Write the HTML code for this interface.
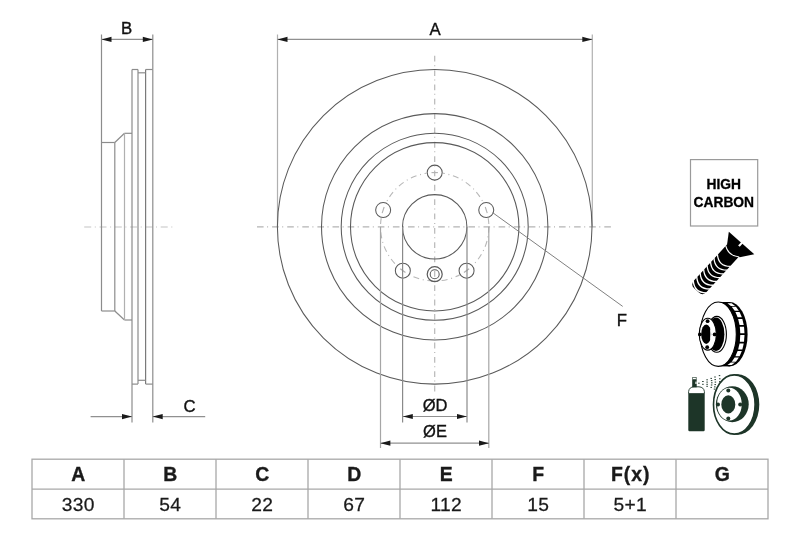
<!DOCTYPE html>
<html><head><meta charset="utf-8"><style>
html,body{margin:0;padding:0;background:#fff;}
body{width:800px;height:533px;overflow:hidden;position:relative;}
svg{position:absolute;left:0;top:0;will-change:transform;font-family:"Liberation Sans",sans-serif;}
</style></head><body>
<svg width="800" height="533" viewBox="0 0 800 533">
<line x1="257" y1="226.8" x2="612" y2="226.8" stroke="#b4b4b4" stroke-width="1.2" stroke-dasharray="6.6 3.5 1 4"/>
<line x1="434.7" y1="55.8" x2="434.7" y2="392.8" stroke="#b8b8b8" stroke-width="1.2" stroke-dasharray="5.8 3.54 1 4"/>
<line x1="84.2" y1="227" x2="173.5" y2="227" stroke="#c4c4c4" stroke-width="1.2" stroke-dasharray="7 3.6 1 3.7"/>
<line x1="277.5" y1="34.5" x2="277.5" y2="226.8" stroke="#b0b0b0" stroke-width="1.2" />
<line x1="592.3" y1="34.5" x2="592.3" y2="226.8" stroke="#b0b0b0" stroke-width="1.2" />
<line x1="277.5" y1="39.4" x2="592.3" y2="39.4" stroke="#909090" stroke-width="1.2" />
<polygon points="277.5,39.4 287.5,36.8 287.5,42.0" fill="#1a1a1a"/>
<polygon points="592.3,39.4 582.3,36.8 582.3,42.0" fill="#1a1a1a"/>
<text x="435.2" y="34.6" font-size="16.8" font-weight="normal" text-anchor="middle" fill="#111" stroke="#111" stroke-width="0.35">A</text>
<line x1="152.8" y1="34.4" x2="152.8" y2="69.5" stroke="#8c8c8c" stroke-width="1.2" />
<line x1="101.5" y1="39.4" x2="152.8" y2="39.4" stroke="#909090" stroke-width="1.2" />
<polygon points="101.5,39.4 111.5,36.8 111.5,42.0" fill="#1a1a1a"/>
<polygon points="152.8,39.4 142.8,36.8 142.8,42.0" fill="#1a1a1a"/>
<text x="126.6" y="34.3" font-size="16.8" font-weight="normal" text-anchor="middle" fill="#111" stroke="#111" stroke-width="0.35">B</text>
<line x1="101.5" y1="34.4" x2="101.5" y2="311" stroke="#8c8c8c" stroke-width="1.2" />
<line x1="101.5" y1="142.5" x2="114.8" y2="142.5" stroke="#8c8c8c" stroke-width="1.2" />
<line x1="101.5" y1="311" x2="114.8" y2="311" stroke="#8c8c8c" stroke-width="1.2" />
<line x1="114.8" y1="142.5" x2="114.8" y2="311" stroke="#8c8c8c" stroke-width="1.2" />
<line x1="114.8" y1="142.5" x2="124.5" y2="133.3" stroke="#8c8c8c" stroke-width="1.2" />
<line x1="114.8" y1="311" x2="124.5" y2="320" stroke="#8c8c8c" stroke-width="1.2" />
<line x1="124.5" y1="133.3" x2="132" y2="133.3" stroke="#8c8c8c" stroke-width="1.2" />
<line x1="124.5" y1="320" x2="132" y2="320" stroke="#8c8c8c" stroke-width="1.2" />
<line x1="124.5" y1="133.3" x2="124.5" y2="320" stroke="#b0b0b0" stroke-width="1.2" />
<line x1="132" y1="69.5" x2="132" y2="422.6" stroke="#8c8c8c" stroke-width="1.2" />
<line x1="138" y1="69.5" x2="138" y2="384.1" stroke="#8c8c8c" stroke-width="1.2" />
<line x1="145.6" y1="69.5" x2="145.6" y2="384.1" stroke="#7a7a7a" stroke-width="1.2" />
<line x1="152.8" y1="69.5" x2="152.8" y2="422.6" stroke="#8c8c8c" stroke-width="1.2" />
<line x1="132" y1="69.5" x2="138" y2="69.5" stroke="#8c8c8c" stroke-width="1.2" />
<line x1="145.6" y1="69.5" x2="152.8" y2="69.5" stroke="#8c8c8c" stroke-width="1.2" />
<line x1="138" y1="72.8" x2="145.6" y2="72.8" stroke="#8c8c8c" stroke-width="1.2" />
<line x1="132" y1="384.1" x2="138" y2="384.1" stroke="#8c8c8c" stroke-width="1.2" />
<line x1="145.6" y1="384.1" x2="152.8" y2="384.1" stroke="#8c8c8c" stroke-width="1.2" />
<line x1="138" y1="380.3" x2="145.6" y2="380.3" stroke="#8c8c8c" stroke-width="1.2" />
<line x1="90.6" y1="416.6" x2="132" y2="416.6" stroke="#909090" stroke-width="1.2" />
<polygon points="132,416.6 122,414.0 122,419.20000000000005" fill="#1a1a1a"/>
<line x1="152.7" y1="416.6" x2="205.2" y2="416.6" stroke="#909090" stroke-width="1.2" />
<polygon points="152.7,416.6 162.7,414.0 162.7,419.20000000000005" fill="#1a1a1a"/>
<text x="189.5" y="411.9" font-size="16.8" font-weight="normal" text-anchor="middle" fill="#111" stroke="#111" stroke-width="0.35">C</text>
<circle cx="434.70" cy="226.80" r="157.3" stroke="#5a5a5a" stroke-width="1.05" fill="none" />
<circle cx="434.70" cy="226.80" r="113.2" stroke="#5a5a5a" stroke-width="1.05" fill="none" />
<circle cx="434.70" cy="226.80" r="93.5" stroke="#5a5a5a" stroke-width="1.05" fill="none" />
<circle cx="434.70" cy="226.80" r="84.2" stroke="#5a5a5a" stroke-width="1.05" fill="none" />
<circle cx="434.70" cy="226.80" r="32.2" stroke="#5a5a5a" stroke-width="1.05" fill="none" />
<g><clipPath id="bc"><path d="M0,0H800V533H0ZM443.00,172.60a8.3,8.3 0 1,0 -16.6,0a8.3,8.3 0 1,0 16.6,0ZM494.55,210.05a8.3,8.3 0 1,0 -16.6,0a8.3,8.3 0 1,0 16.6,0ZM474.86,270.65a8.3,8.3 0 1,0 -16.6,0a8.3,8.3 0 1,0 16.6,0ZM411.14,270.65a8.3,8.3 0 1,0 -16.6,0a8.3,8.3 0 1,0 16.6,0ZM391.45,210.05a8.3,8.3 0 1,0 -16.6,0a8.3,8.3 0 1,0 16.6,0Z" clip-rule="evenodd"/></clipPath></g>
<circle cx="434.70" cy="226.80" r="54.2" stroke="#b8b8b8" stroke-width="1.1" fill="none" stroke-dasharray="6 3.7 1 3.7" clip-path="url(#bc)"/>
<circle cx="434.70" cy="172.60" r="7.5" stroke="#5a5a5a" stroke-width="1.05" fill="none" />
<line x1="431.50" y1="172.60" x2="437.90" y2="172.60" stroke="#b0b0b0" stroke-width="1.1" />
<circle cx="486.25" cy="210.05" r="7.5" stroke="#5a5a5a" stroke-width="1.05" fill="none" />
<line x1="485.26" y1="207.01" x2="487.24" y2="213.09" stroke="#b0b0b0" stroke-width="1.1" />
<circle cx="466.56" cy="270.65" r="7.5" stroke="#5a5a5a" stroke-width="1.05" fill="none" />
<line x1="469.15" y1="268.77" x2="463.97" y2="272.53" stroke="#b0b0b0" stroke-width="1.1" />
<circle cx="402.84" cy="270.65" r="7.5" stroke="#5a5a5a" stroke-width="1.05" fill="none" />
<line x1="405.43" y1="272.53" x2="400.25" y2="268.77" stroke="#b0b0b0" stroke-width="1.1" />
<circle cx="383.15" cy="210.05" r="7.5" stroke="#5a5a5a" stroke-width="1.05" fill="none" />
<line x1="382.16" y1="213.09" x2="384.14" y2="207.01" stroke="#b0b0b0" stroke-width="1.1" />
<circle cx="434.70" cy="274.20" r="7.5" stroke="#5a5a5a" stroke-width="1.2" fill="none" />
<circle cx="434.70" cy="274.20" r="4.5" stroke="#5a5a5a" stroke-width="1.05" fill="none" />
<line x1="402.6" y1="226.8" x2="402.6" y2="422.5" stroke="#8a8a8a" stroke-width="1.2" />
<line x1="467" y1="226.8" x2="467" y2="422.5" stroke="#8a8a8a" stroke-width="1.2" />
<line x1="402.8" y1="416.5" x2="467" y2="416.5" stroke="#909090" stroke-width="1.2" />
<polygon points="402.8,416.5 412.8,413.9 412.8,419.1" fill="#1a1a1a"/>
<polygon points="467,416.5 457,413.9 457,419.1" fill="#1a1a1a"/>
<text x="435" y="410.6" font-size="16.5" font-weight="normal" text-anchor="middle" fill="#111" stroke="#111" stroke-width="0.35">&#216;D</text>
<line x1="380.5" y1="226.8" x2="380.5" y2="448" stroke="#a6a6a6" stroke-width="1.2" />
<line x1="488.8" y1="226.8" x2="488.8" y2="448" stroke="#a6a6a6" stroke-width="1.2" />
<line x1="380.4" y1="443.2" x2="489" y2="443.2" stroke="#909090" stroke-width="1.2" />
<polygon points="380.4,443.2 390.4,440.59999999999997 390.4,445.8" fill="#1a1a1a"/>
<polygon points="489,443.2 479,440.59999999999997 479,445.8" fill="#1a1a1a"/>
<text x="435" y="437.3" font-size="16.5" font-weight="normal" text-anchor="middle" fill="#111" stroke="#111" stroke-width="0.35">&#216;E</text>
<line x1="492.6" y1="212.6" x2="622.7" y2="306.4" stroke="#808080" stroke-width="1.0" />
<text x="622" y="325.8" font-size="16.8" font-weight="normal" text-anchor="middle" fill="#111" stroke="#111" stroke-width="0.35">F</text>
<rect x="32" y="459.2" width="736" height="59.6" fill="none" stroke="#a8a8a8" stroke-width="1.3"/>
<line x1="32" y1="489.2" x2="768" y2="489.2" stroke="#a8a8a8" stroke-width="1.3"/>
<line x1="124" y1="459.2" x2="124" y2="518.8" stroke="#a8a8a8" stroke-width="1.3"/>
<line x1="216" y1="459.2" x2="216" y2="518.8" stroke="#a8a8a8" stroke-width="1.3"/>
<line x1="308" y1="459.2" x2="308" y2="518.8" stroke="#a8a8a8" stroke-width="1.3"/>
<line x1="400" y1="459.2" x2="400" y2="518.8" stroke="#a8a8a8" stroke-width="1.3"/>
<line x1="492" y1="459.2" x2="492" y2="518.8" stroke="#a8a8a8" stroke-width="1.3"/>
<line x1="584" y1="459.2" x2="584" y2="518.8" stroke="#a8a8a8" stroke-width="1.3"/>
<line x1="676" y1="459.2" x2="676" y2="518.8" stroke="#a8a8a8" stroke-width="1.3"/>
<text x="78.8" y="481.2" font-size="19.4" font-weight="bold" letter-spacing="1" stroke="#1a1a1a" stroke-width="0.35" text-anchor="middle" fill="#1a1a1a">A</text>
<text transform="translate(78.2,511) scale(1.05,1)" x="0" y="0" font-size="18.3" letter-spacing="0.2" stroke="#1a1a1a" stroke-width="0.25" text-anchor="middle" fill="#1a1a1a">330</text>
<text x="170.8" y="481.2" font-size="19.4" font-weight="bold" letter-spacing="1" stroke="#1a1a1a" stroke-width="0.35" text-anchor="middle" fill="#1a1a1a">B</text>
<text transform="translate(170.2,511) scale(1.05,1)" x="0" y="0" font-size="18.3" letter-spacing="0.2" stroke="#1a1a1a" stroke-width="0.25" text-anchor="middle" fill="#1a1a1a">54</text>
<text x="262.8" y="481.2" font-size="19.4" font-weight="bold" letter-spacing="1" stroke="#1a1a1a" stroke-width="0.35" text-anchor="middle" fill="#1a1a1a">C</text>
<text transform="translate(262.2,511) scale(1.05,1)" x="0" y="0" font-size="18.3" letter-spacing="0.2" stroke="#1a1a1a" stroke-width="0.25" text-anchor="middle" fill="#1a1a1a">22</text>
<text x="354.8" y="481.2" font-size="19.4" font-weight="bold" letter-spacing="1" stroke="#1a1a1a" stroke-width="0.35" text-anchor="middle" fill="#1a1a1a">D</text>
<text transform="translate(354.2,511) scale(1.05,1)" x="0" y="0" font-size="18.3" letter-spacing="0.2" stroke="#1a1a1a" stroke-width="0.25" text-anchor="middle" fill="#1a1a1a">67</text>
<text x="446.8" y="481.2" font-size="19.4" font-weight="bold" letter-spacing="1" stroke="#1a1a1a" stroke-width="0.35" text-anchor="middle" fill="#1a1a1a">E</text>
<text transform="translate(446.2,511) scale(1.05,1)" x="0" y="0" font-size="18.3" letter-spacing="0.2" stroke="#1a1a1a" stroke-width="0.25" text-anchor="middle" fill="#1a1a1a">112</text>
<text x="538.8" y="481.2" font-size="19.4" font-weight="bold" letter-spacing="1" stroke="#1a1a1a" stroke-width="0.35" text-anchor="middle" fill="#1a1a1a">F</text>
<text transform="translate(538.2,511) scale(1.05,1)" x="0" y="0" font-size="18.3" letter-spacing="0.2" stroke="#1a1a1a" stroke-width="0.25" text-anchor="middle" fill="#1a1a1a">15</text>
<text x="630.8" y="481.2" font-size="19.4" font-weight="bold" letter-spacing="1" stroke="#1a1a1a" stroke-width="0.35" text-anchor="middle" fill="#1a1a1a">F(x)</text>
<text transform="translate(630.2,511) scale(1.05,1)" x="0" y="0" font-size="18.3" letter-spacing="0.2" stroke="#1a1a1a" stroke-width="0.25" text-anchor="middle" fill="#1a1a1a">5+1</text>
<text x="722.8" y="481.2" font-size="19.4" font-weight="bold" letter-spacing="1" stroke="#1a1a1a" stroke-width="0.35" text-anchor="middle" fill="#1a1a1a">G</text>

<rect x="690.5" y="159.6" width="67.2" height="66.4" fill="#fff" stroke="#9a9a9a" stroke-width="1.2"/>
<text x="723.8" y="189.2" font-size="13.8" font-weight="bold" text-anchor="middle" fill="#000" stroke="#000" stroke-width="0.3">HIGH</text>
<text x="723.8" y="206.6" font-size="13.8" font-weight="bold" text-anchor="middle" fill="#000" stroke="#000" stroke-width="0.3">CARBON</text>
<g transform="translate(741.55,243.05) rotate(41.5)">
<path d="M-17,0 L17,0 L8.0,11.8 L-8.6,12.6 Z" fill="#000"/>
<rect x="-1" y="-1" width="2.2" height="5" fill="#fff"/>
</g>
<g transform="translate(741.55,243.05) rotate(42.5) translate(-1.0,0)">
<path d="M8.3,11 L8.3,59.5 Q8.3,65.3 3,65.3 L-3.5,65.3 Q-8.7,65.3 -8.7,59.5 L-8.7,11 Z" fill="#000"/>
<path d="M-9,12.6 Q-0.2,18.5 8.6,11.9" stroke="#fff" stroke-width="1.1" fill="none"/>
<path d="M-9.2,24.60 Q-0.2,33.10 8.8,24.60" stroke="#fff" stroke-width="1.3" fill="none"/>
<path d="M-9.2,29.70 Q-0.2,38.20 8.8,29.70" stroke="#fff" stroke-width="1.3" fill="none"/>
<path d="M-9.2,34.80 Q-0.2,43.30 8.8,34.80" stroke="#fff" stroke-width="1.3" fill="none"/>
<path d="M-9.2,39.90 Q-0.2,48.40 8.8,39.90" stroke="#fff" stroke-width="1.3" fill="none"/>
<path d="M-9.2,45.00 Q-0.2,53.50 8.8,45.00" stroke="#fff" stroke-width="1.3" fill="none"/>
<path d="M-9.2,50.10 Q-0.2,58.60 8.8,50.10" stroke="#fff" stroke-width="1.3" fill="none"/>
<path d="M-9.2,55.20 Q-0.2,63.70 8.8,55.20" stroke="#fff" stroke-width="1.3" fill="none"/>
<path d="M-9.2,60.30 Q-0.2,68.80 8.8,60.30" stroke="#fff" stroke-width="1.3" fill="none"/>
</g><ellipse cx="729.6" cy="334.2" rx="18.0" ry="32.2" fill="#000"/>
<rect x="718.3" y="302.0" width="11.300000000000068" height="64.4" fill="#000"/>
<polygon points="727.44,303.34 730.86,305.88 735.06,305.88 731.64,303.34" fill="#fff"/>
<polygon points="731.73,306.77 734.67,310.80 738.87,310.80 735.93,306.77" fill="#fff"/>
<polygon points="735.38,312.08 737.63,317.33 741.83,317.33 739.58,312.08" fill="#fff"/>
<polygon points="738.13,318.88 739.55,325.00 743.75,325.00 742.33,318.88" fill="#fff"/>
<polygon points="739.81,326.74 740.29,333.30 744.49,333.30 744.01,326.74" fill="#fff"/>
<polygon points="740.29,335.10 739.81,341.66 744.01,341.66 744.49,335.10" fill="#fff"/>
<polygon points="739.55,343.40 738.13,349.52 742.33,349.52 743.75,343.40" fill="#fff"/>
<polygon points="737.63,351.07 735.38,356.32 739.58,356.32 741.83,351.07" fill="#fff"/>
<polygon points="734.67,357.60 731.73,361.63 735.93,361.63 738.87,357.60" fill="#fff"/>
<polygon points="730.86,362.52 727.44,365.06 731.64,365.06 735.06,362.52" fill="#fff"/>
<ellipse cx="718.3" cy="334.2" rx="18.0" ry="32.2" fill="#fff" stroke="#000" stroke-width="1.1"/>
<ellipse cx="716.8" cy="334.3" rx="9.6" ry="17.9" fill="#fff" stroke="#000" stroke-width="1.1"/>
<ellipse cx="716.0" cy="334.3" rx="8.4" ry="16.7" fill="#000"/>
<ellipse cx="707.8" cy="334.2" rx="8.6" ry="15.9" fill="#fff" stroke="#000" stroke-width="1.1"/>
<ellipse cx="706.2" cy="334.2" rx="5" ry="9.7" fill="#000"/>
<path d="M710.0,327.4 Q713.0,334.2 710.0,341.0 Q710.7,334.2 710.0,327.4Z" fill="#fff"/>
<circle cx="707.6" cy="321.2" r="1.9" fill="#000"/>
<circle cx="714.6" cy="334.4" r="1.9" fill="#000"/>
<circle cx="707.2" cy="347.2" r="1.9" fill="#000"/>
<circle cx="699.9" cy="334.4" r="1.9" fill="#000"/><ellipse cx="737.3" cy="404.5" rx="22" ry="30.3" fill="#1d3528"/>
<ellipse cx="734.3" cy="404.5" rx="20.8" ry="29.6" fill="#fff" stroke="#1d3528" stroke-width="1.6"/>
<ellipse cx="732.3" cy="404.2" rx="16.4" ry="18" fill="#1d3528"/>
<ellipse cx="729.4" cy="404.2" rx="12.3" ry="16.4" fill="#fff"/>
<ellipse cx="728.3" cy="404.4" rx="7" ry="9.1" fill="#1d3528"/>
<circle cx="728.3" cy="390.4" r="2" fill="#1d3528"/>
<circle cx="740.2" cy="404.4" r="2" fill="#1d3528"/>
<circle cx="728.3" cy="418.5" r="2" fill="#1d3528"/>
<circle cx="718" cy="404.4" r="2" fill="#1d3528"/>
<path d="M688.3,393.6 L688.3,430 Q688.3,431.2 689.5,431.2 L703.5,431.2 Q704.7,431.2 704.7,430 L704.7,393.6 Z" fill="#1d3528"/>
<path d="M688.6,393.6 L688.6,391.5 Q689.2,387 694,386.8 L699,386.8 Q703.8,387.2 704.4,391.5 L704.4,393.6 Z" fill="#fff" stroke="#1d3528" stroke-width="0.9"/>
<rect x="692.2" y="379.3" width="4.5" height="8" fill="#1d3528"/>
<rect x="692.7" y="377.4" width="3.5" height="2" fill="#fff" stroke="#1d3528" stroke-width="0.6"/>
<rect x="695.4" y="381.6" width="1.2" height="2.4" fill="#fff"/>
<rect x="698.15" y="382.70" width="1.5" height="1.0" fill="#1d3528"/>
<rect x="702.15" y="381.00" width="1.5" height="1.0" fill="#1d3528"/>
<rect x="702.15" y="383.80" width="1.5" height="1.0" fill="#1d3528"/>
<rect x="706.35" y="379.30" width="1.5" height="1.0" fill="#1d3528"/>
<rect x="706.35" y="381.60" width="1.5" height="1.0" fill="#1d3528"/>
<rect x="706.35" y="383.80" width="1.5" height="1.0" fill="#1d3528"/>
<rect x="706.35" y="385.80" width="1.5" height="1.0" fill="#1d3528"/>
<rect x="710.45" y="377.90" width="1.5" height="1.0" fill="#1d3528"/>
<rect x="710.85" y="380.10" width="1.5" height="1.0" fill="#1d3528"/>
<rect x="711.05" y="382.30" width="1.5" height="1.0" fill="#1d3528"/>
<rect x="710.85" y="384.50" width="1.5" height="1.0" fill="#1d3528"/>
<rect x="710.45" y="386.90" width="1.5" height="1.0" fill="#1d3528"/>
<rect x="714.25" y="376.50" width="1.5" height="1.0" fill="#1d3528"/>
<rect x="714.45" y="379.10" width="1.5" height="1.0" fill="#1d3528"/>
<rect x="714.65" y="381.60" width="1.5" height="1.0" fill="#1d3528"/>
<rect x="714.45" y="384.10" width="1.5" height="1.0" fill="#1d3528"/>
<rect x="714.05" y="386.40" width="1.5" height="1.0" fill="#1d3528"/>
<rect x="713.75" y="388.60" width="1.5" height="1.0" fill="#1d3528"/>
<rect x="718.75" y="375.10" width="1.5" height="1.0" fill="#1d3528"/>
<rect x="719.05" y="378.30" width="1.5" height="1.0" fill="#1d3528"/>
<rect x="719.05" y="381.10" width="1.5" height="1.0" fill="#1d3528"/>
</svg>
</body></html>
